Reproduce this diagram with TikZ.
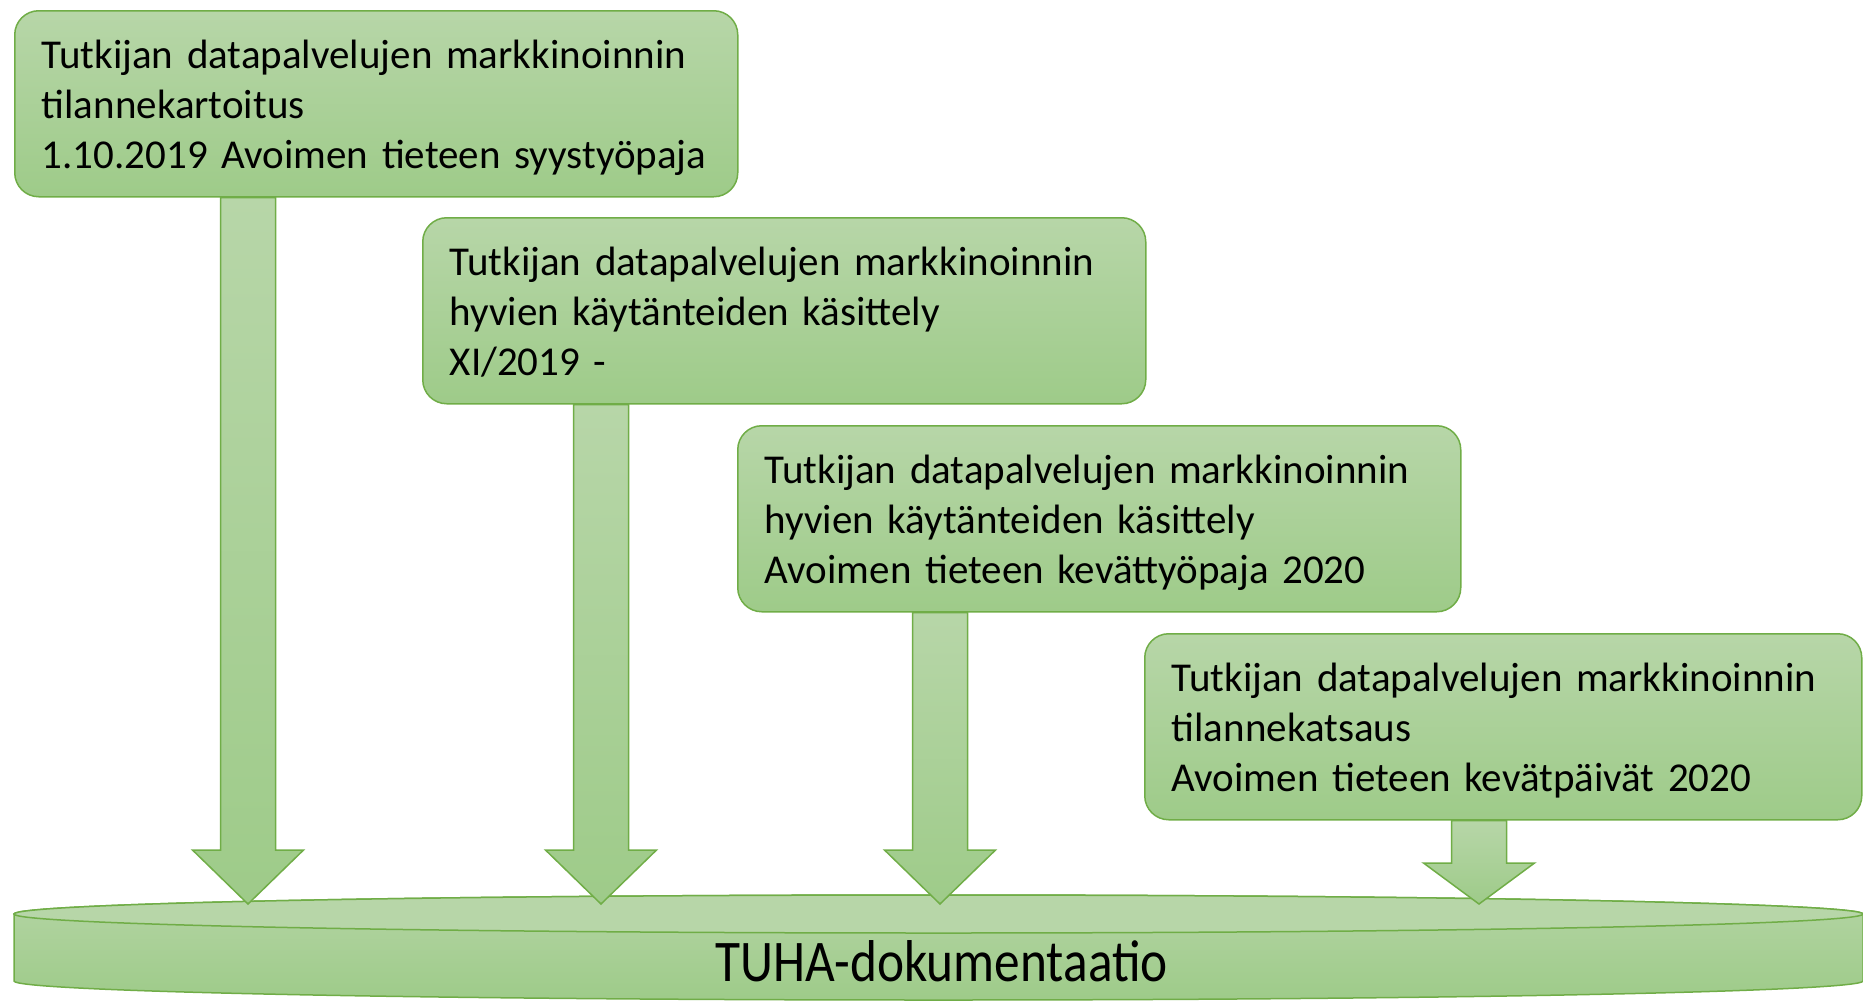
\documentclass[tikz,border=0pt]{standalone}
\usepackage{fontspec}
\usepackage{graphicx}
\setmainfont{Carlito}
\newfontfamily\narrowfont[FakeStretch=0.87]{Carlito}
\usetikzlibrary{calc}
\definecolor{gtop}{RGB}{183,214,168}
\definecolor{gbot}{RGB}{158,203,137}
\definecolor{gline}{RGB}{112,173,71}
\newcommand\topstrut{\rule{0pt}{42pt}}
\newcommand\botstrut{\rule[-12pt]{0pt}{12pt}}
\tikzset{
  stagebox/.style={draw=gline, line width=1.5pt, rounded corners=24pt,
    top color=gtop, bottom color=gbot, minimum width=723pt, minimum height=186pt,
    text width=669pt, inner xsep=27pt, inner ysep=0pt, align=left,
    font=\fontsize{41}{50}\selectfont, anchor=north west},
  blockarrow/.style={draw=gline, line width=1.5pt, top color=gtop, bottom color=gbot, line join=miter},
  cylbody/.style={draw=gline, line width=1.5pt, top color=gtop!85!gbot, bottom color=gbot},
  cyltop/.style={draw=gline, line width=1.5pt, fill=gtop},
}
\newcommand\gblockarrow[3]{%
  \draw[blockarrow] let \p1=(#1.south), \p2=(#2) in
   (\x2-27.5pt,\y1) -- (\x2+27.5pt,\y1) -- (\x2+27.5pt,\y2+#3) -- (\x2+55.5pt,\y2+#3)
   -- (\x2,\y2) -- (\x2-55.5pt,\y2+#3) -- (\x2-27.5pt,\y2+#3) -- cycle;}
\begin{document}
\begin{tikzpicture}[x=1pt,y=-1pt]
\useasboundingbox (0,0) rectangle (1863,1001);
% cylinder
\path[cylbody] (14,914) -- (14,981) arc[start angle=180, end angle=360, x radius=924.5pt, y radius=19pt]
  -- (1863,914) arc[start angle=0, end angle=180, x radius=924.5pt, y radius=19pt] -- cycle;
\path[cyltop] (938.5,914) ellipse [x radius=924.5pt, y radius=19pt];
\node[font=\narrowfont\fontsize{59}{70}\selectfont, anchor=base, inner sep=0pt] (tuha) at (941.5,981) {TUHA-dokumentaatio};
\coordinate (t1) at (248,904);
\coordinate (t2) at (601,904);
\coordinate (t3) at (940,904);
\coordinate (t4) at (1479,904);
% boxes
\node[stagebox] (b1) at (14,10) {\topstrut Tutkijan datapalvelujen markkinoinnin\\tilannekartoitus\\1.10.2019 Avoimen tieteen syystyöpaja\botstrut};
\node[stagebox] (b2) at (422,217) {\topstrut Tutkijan datapalvelujen markkinoinnin\\hyvien käytänteiden käsittely\\XI/2019 -\botstrut};
\node[stagebox] (b3) at (737,425) {\topstrut Tutkijan datapalvelujen markkinoinnin\\hyvien käytänteiden käsittely\\Avoimen tieteen kevättyöpaja 2020\botstrut};
\node[stagebox, minimum width=717pt, text width=663pt] (b4) at (1144,633) {\topstrut Tutkijan datapalvelujen markkinoinnin\\tilannekatsaus\\Avoimen tieteen kevätpäivät 2020\botstrut};
% arrows
\gblockarrow{b1}{t1}{54pt}
\gblockarrow{b2}{t2}{54pt}
\gblockarrow{b3}{t3}{54pt}
\gblockarrow{b4}{t4}{41pt}
\end{tikzpicture}
\end{document}
